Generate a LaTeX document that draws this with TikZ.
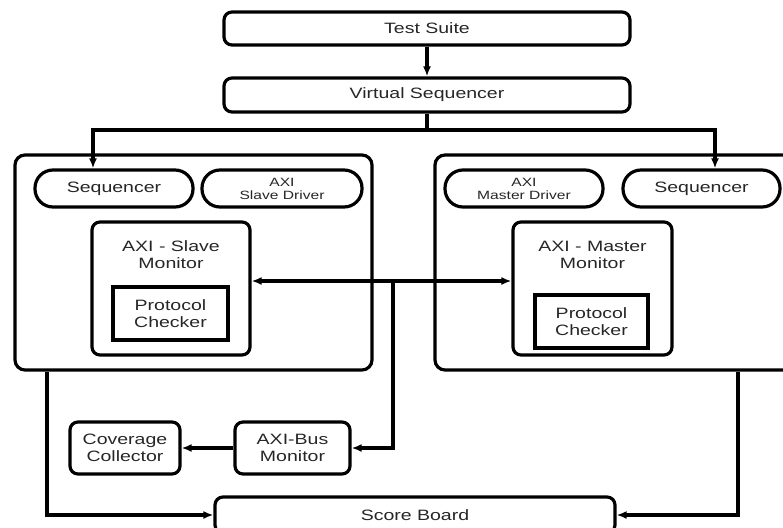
\documentclass[tikz,border=0pt]{standalone}
\usepackage{fontspec}
\setmainfont{Liberation Sans}[FakeStretch=1.3]
\usetikzlibrary{arrows.meta}
\begin{document}
\begin{tikzpicture}[x=1pt,y=-1pt,
  box/.style={draw, line width=3.2pt, rounded corners=8pt, inner sep=0pt, align=center,
    text=black!85, font=\fontsize{15}{17}\selectfont},
  pill/.style={box, rounded corners=18pt},
  sq/.style={box, rounded corners=0pt},
  lbl/.style={inner sep=0pt, align=center, text=black!85, font=\fontsize{15}{17}\selectfont},
  small/.style={font=\fontsize{12}{13}\selectfont},
  tip/.tip={Latex[length=10pt,width=8pt]},
  arr/.style={line width=3.2pt, -tip},
  dbl/.style={line width=3.2pt, tip-tip},
  ln/.style={line width=3.2pt}]
\useasboundingbox (0,0) rectangle (783,527);

\node[box, minimum width=406pt, minimum height=33pt] (ts) at (427,28.5) {Test Suite};
\node[box, minimum width=406pt, minimum height=34pt] (vs) at (427,95) {Virtual Sequencer};

\node[box, rounded corners=10pt, minimum width=357pt, minimum height=215pt] (bigL) at (193.5,262.5) {};
\node[box, rounded corners=10pt, minimum width=360pt, minimum height=215pt] (bigR) at (615,262.5) {};

\node[pill, minimum width=158pt, minimum height=37pt] (seqL) at (114,188.5) {Sequencer};
\node[pill, small, minimum width=160pt, minimum height=37pt] (drvS) at (282,188.5) {AXI\\Slave Driver};
\node[pill, small, minimum width=158pt, minimum height=37pt] (drvM) at (524,188.5) {AXI\\Master Driver};
\node[pill, minimum width=157pt, minimum height=37pt] (seqR) at (701.5,188.5) {Sequencer};

\node[box, minimum width=158pt, minimum height=133pt] (monS) at (171,288.5) {};
\node[lbl] (monSt) at (171,255) {AXI - Slave\\Monitor};
\node[sq, minimum width=115pt, minimum height=53pt] (pcS) at (170.5,313.5) {Protocol\\Checker};

\node[box, minimum width=159pt, minimum height=133pt] (monM) at (592.5,288.5) {};
\node[lbl] (monMt) at (592.5,255) {AXI - Master\\Monitor};
\node[sq, minimum width=113pt, minimum height=53pt] (pcM) at (591.5,321.5) {Protocol\\Checker};

\node[box, minimum width=115pt, minimum height=52pt] (busM) at (292.5,448) {AXI-Bus\\Monitor};
\node[box, minimum width=110pt, minimum height=52pt] (cov) at (125,448) {Coverage\\Collector};
\node[box, minimum width=400pt, minimum height=36pt] (sb) at (415,515) {Score Board};

\draw[arr] (ts) -- (vs);
\coordinate (split) at (427,130);
\draw[arr] (vs.south) -- (split) -| ([xshift=-21pt]seqL.north);
\draw[arr] (split) -| ([xshift=13.5pt]seqR.north);

\draw[dbl] ([yshift=7.5pt]monS.east) -- ([yshift=7.5pt]monM.west);
\coordinate (tap) at (393,281);
\draw[arr] (tap) |- (busM.east);
\draw[arr] (busM) -- (cov);

\draw[arr] ([xshift=-146.5pt]bigL.south) |- (sb.west);
\draw[arr] ([xshift=123pt]bigR.south) |- (sb.east);
\end{tikzpicture}
\end{document}
